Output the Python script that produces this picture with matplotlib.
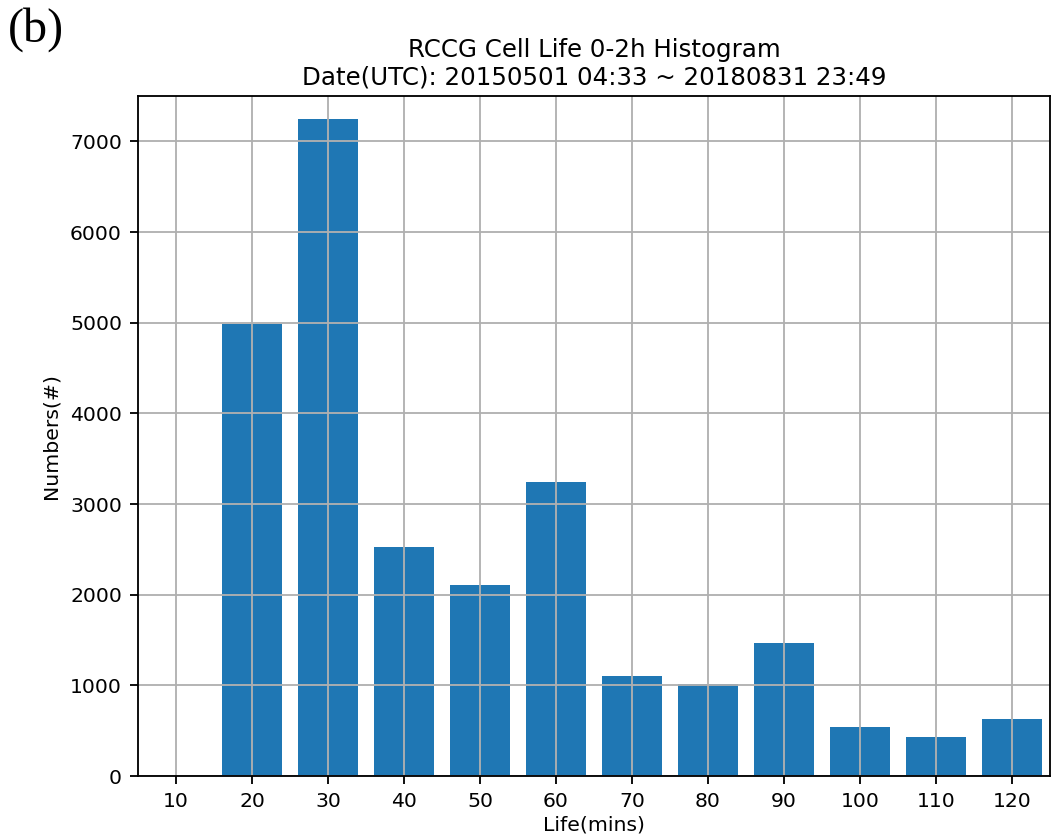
import matplotlib
matplotlib.use("Agg")
import matplotlib.pyplot as plt

# Cell life bins (minutes) and counts
life_mins = [10, 20, 30, 40, 50, 60, 70, 80, 90, 100, 110, 120]
counts = [0, 4990, 7245, 2527, 2106, 3238, 1098, 1020, 1462, 537, 430, 630]
tick_labels = [str(v) for v in life_mins]

title = "RCCG Cell Life 0-2h Histogram\nDate(UTC): 20150501 04:33 ~ 20180831 23:49"

plt.rcParams["font.size"] = 8.9
plt.rcParams["axes.titlesize"] = 10.7

dpi = 165
fig = plt.figure(figsize=(1054 / dpi, 840 / dpi), dpi=dpi)
ax = fig.add_axes([138 / 1054, 1 - 776 / 840, (1050 - 138) / 1054, (776 - 96) / 840])

ax.bar(life_mins, counts, width=8, color="#1f77b4")
ax.set_xticks(life_mins)
ax.set_xticklabels(tick_labels)
ax.set_xlim(5, 125)
ax.set_ylim(0, 7500)
ax.grid(True)

ax.set_title(title, pad=5)
ax.set_xlabel("Life(mins)", labelpad=2)
ax.set_ylabel("Numbers(#)")

fig.text(8 / 1054, 1 - 42 / 840, "(b)", family="Liberation Serif", fontsize=21)

fig.savefig("out.png", dpi=dpi)
